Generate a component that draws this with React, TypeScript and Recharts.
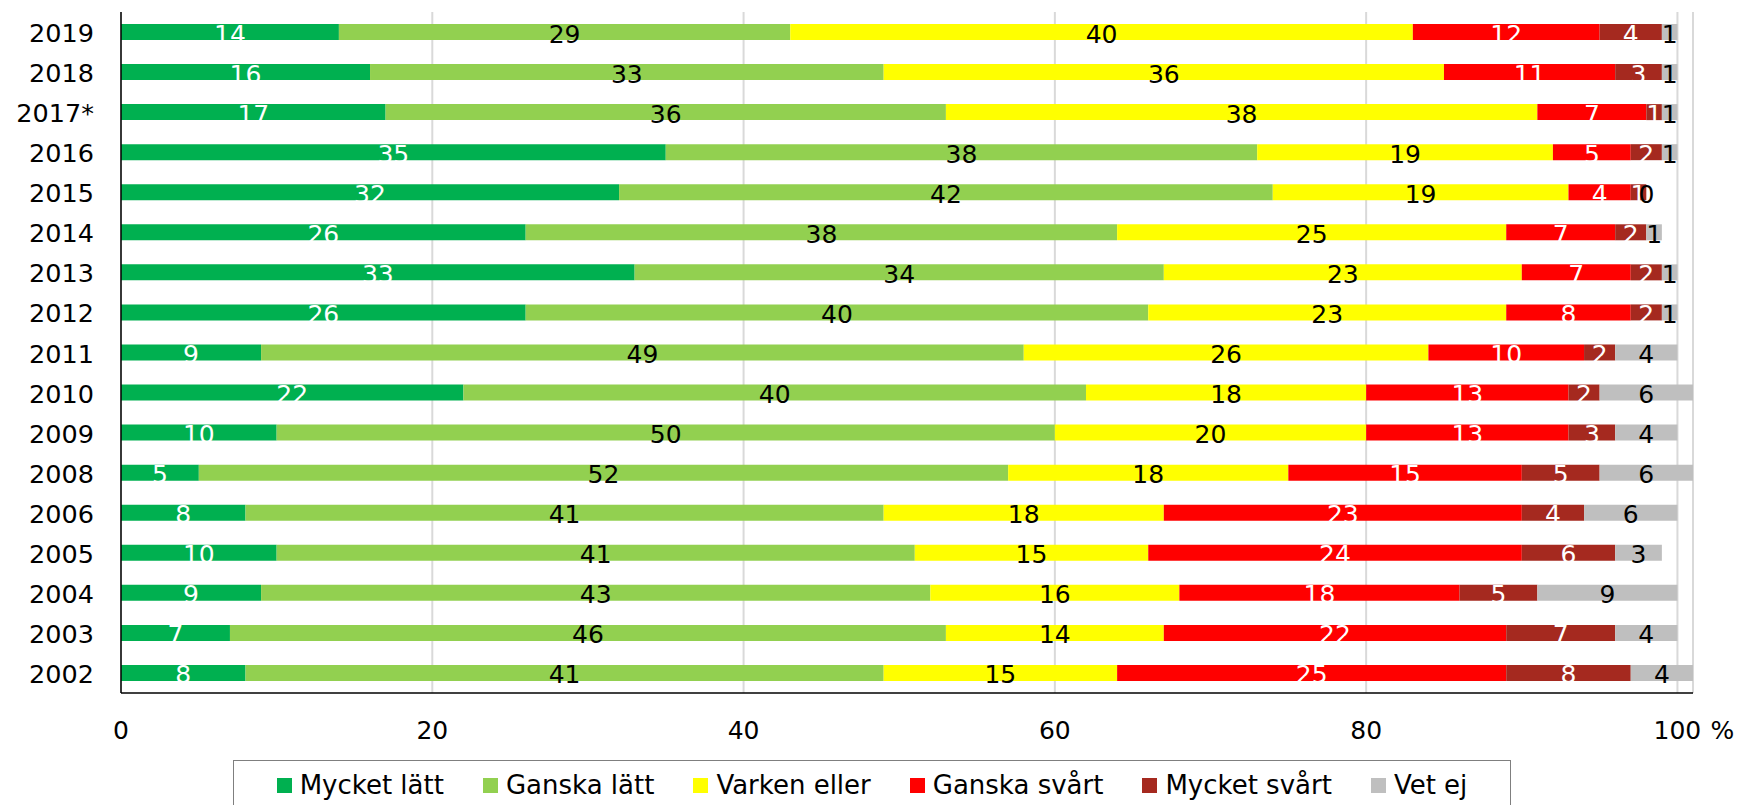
import React from "react";
import {
  BarChart,
  Bar,
  XAxis,
  YAxis,
  CartesianGrid,
  LabelList,
  Legend,
} from "recharts";

const years = ["2019", "2018", "2017*", "2016", "2015", "2014", "2013", "2012", "2011", "2010", "2009", "2008", "2006", "2005", "2004", "2003", "2002"];
const mycketLatt = [14, 16, 17, 35, 32, 26, 33, 26, 9, 22, 10, 5, 8, 10, 9, 7, 8];
const ganskaLatt = [29, 33, 36, 38, 42, 38, 34, 40, 49, 40, 50, 52, 41, 41, 43, 46, 41];
const varkenEller = [40, 36, 38, 19, 19, 25, 23, 23, 26, 18, 20, 18, 18, 15, 16, 14, 15];
const ganskaSvart = [12, 11, 7, 5, 4, 7, 7, 8, 10, 13, 13, 15, 23, 24, 18, 22, 25];
const mycketSvart = [4, 3, 1, 2, 1, 2, 2, 2, 2, 2, 3, 5, 4, 6, 5, 7, 8];
const vetEj = [1, 1, 1, 1, 0, 1, 1, 1, 4, 6, 4, 6, 6, 3, 9, 4, 4];
const xTicks = [0, 20, 40, 60, 80, 100];

const series = [
  { key: "ml", name: "Mycket lätt", color: "#00B050", label: "#FFFFFF", values: mycketLatt },
  { key: "gl", name: "Ganska lätt", color: "#92D050", label: "#000000", values: ganskaLatt },
  { key: "ve", name: "Varken eller", color: "#FFFF00", label: "#000000", values: varkenEller },
  { key: "gs", name: "Ganska svårt", color: "#FF0000", label: "#FFFFFF", values: ganskaSvart },
  { key: "ms", name: "Mycket svårt", color: "#A5291F", label: "#FFFFFF", values: mycketSvart },
  { key: "vj", name: "Vet ej", color: "#BFBFBF", label: "#000000", values: vetEj },
];

const data = years.map((y, i) => {
  const row: any = { year: y };
  series.forEach((s) => {
    row[s.key] = s.values[i];
  });
  return row;
});

const FONT = "Verdana, 'DejaVu Sans', sans-serif";

const XTick = (props: any) => {
  const { x, y, payload } = props;
  return (
    <g>
      <text x={x} y={y + 37} textAnchor="middle" dominantBaseline="central" fontSize={25} fontFamily={FONT} fill="#000">
        {payload.value}
      </text>
      {payload.value === 100 ? (
        <text x={x + 33} y={y + 37} textAnchor="start" dominantBaseline="central" fontSize={25} fontFamily={FONT} fill="#000">
          %
        </text>
      ) : null}
    </g>
  );
};

const YTick = (props: any) => {
  const { x, y, payload } = props;
  return (
    <text x={x - 27} y={y + 1} textAnchor="end" dominantBaseline="central" fontSize={25.5} fontFamily={FONT} fill="#000">
      {payload.value}
    </text>
  );
};

const makeLabel = (color: string) => (props: any) => {
  const { x, y, width, height, value } = props;
  return (
    <text
      x={Number(x) + Number(width) / 2}
      y={Number(y) + Number(height) / 2 + 2}
      textAnchor="middle"
      dominantBaseline="central"
      fontSize={25}
      fontFamily={FONT}
      fill={color}
    >
      {value}
    </text>
  );
};

const LegendContent = () => (
  <div
    style={{
      boxSizing: "border-box",
      width: "100%",
      height: "100%",
      border: "1px solid #7F7F7F",
      display: "flex",
      justifyContent: "center",
      alignItems: "center",
      gap: 39,
      fontFamily: FONT,
      fontSize: 26,
      color: "#000",
    }}
  >
    {series.map((s) => (
      <div key={s.key} style={{ display: "flex", alignItems: "center", whiteSpace: "nowrap" }}>
        <div style={{ width: 15, height: 15, background: s.color, marginRight: 8 }} />
        <span style={{ lineHeight: "30px" }}>{s.name}</span>
      </div>
    ))}
  </div>
);

export default function App() {
  return (
    <div style={{ position: "absolute", left: 0, top: 0, width: 1742, height: 805, overflow: "hidden", background: "#fff" }}>
      <BarChart
        width={1742}
        height={805}
        data={data}
        layout="vertical"
        margin={{ top: 12, right: 49, bottom: 52, left: 0 }}
        barSize={16}
      >
        <CartesianGrid horizontal={false} vertical={true} stroke="#D9D9D9" strokeWidth={2} />
        <XAxis
          type="number"
          domain={[0, 101]}
          ticks={xTicks}
          allowDataOverflow={true}
          height={60}
          tickLine={false}
          tickSize={0}
          tickMargin={0}
          axisLine={{ stroke: "#000", strokeWidth: 1.5 }}
          tick={<XTick />}
          interval={0}
        />
        <YAxis
          type="category"
          dataKey="year"
          width={121}
          tickLine={false}
          tickSize={0}
          tickMargin={0}
          axisLine={{ stroke: "#000", strokeWidth: 1.5 }}
          tick={<YTick />}
          interval={0}
        />
        <Legend
          layout="vertical"
          align="center"
          verticalAlign="middle"
          content={<LegendContent />}
          wrapperStyle={{ top: 760, left: 233, width: 1278, height: 50 }}
        />
        {series.map((s) => (
          <Bar
            key={s.key}
            dataKey={s.key}
            name={s.name}
            stackId="a"
            fill={s.color}
            minPointSize={s.key === "vj" ? 0.05 : 0}
            isAnimationActive={false}
          >
            <LabelList dataKey={s.key} content={makeLabel(s.label)} />
          </Bar>
        ))}
      </BarChart>
    </div>
  );
}
